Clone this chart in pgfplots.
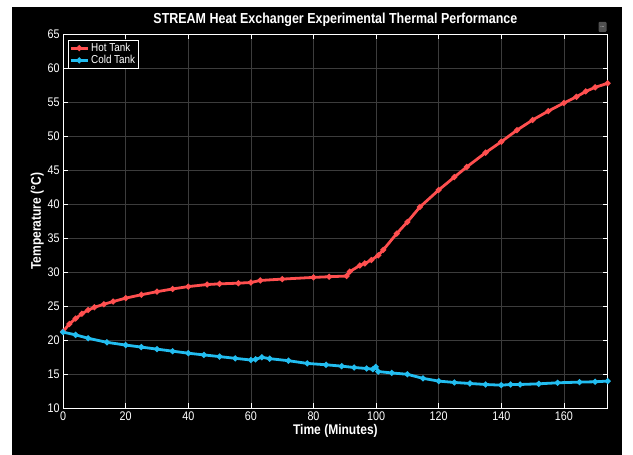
\documentclass[border=0pt]{standalone}
\usepackage{fontspec}
\setmainfont{Liberation Sans}[FakeStretch=0.86]
\usepackage{pgfplots}
\usepackage{pgfplotstable}
\pgfplotsset{compat=1.18}
\definecolor{hotc}{HTML}{FF4F4F}
\definecolor{coldc}{HTML}{22BDF0}
\definecolor{gridc}{HTML}{3C3C3C}

\pgfplotstableread{
t T
0 21.3
2 22.4
4 23.2
6 23.9
8 24.45
10 24.85
13 25.3
16 25.7
20 26.2
25 26.7
30 27.15
35 27.55
40 27.9
46 28.2
50 28.3
56 28.4
60 28.5
63 28.8
70 29.0
80 29.25
85 29.35
90.6 29.45
91.6 30.1
94.8 31.0
96.4 31.3
98.5 31.8
100.7 32.5
102.3 33.3
106.6 35.7
110 37.4
114 39.6
120 42.1
125 44.0
129 45.5
135 47.6
140 49.2
145 50.9
150 52.4
155 53.7
160 54.9
164 55.8
167 56.6
170 57.2
174 57.8
}\hot

\pgfplotstableread{
t T
0 21.2
4 20.8
8 20.3
14 19.7
20 19.3
25 19.0
30 18.7
35 18.4
40 18.1
45 17.85
50 17.6
55 17.35
60 17.1
61.5 17.2
63.5 17.5
66 17.3
72 17.0
78 16.6
84 16.4
89 16.2
93 16.0
97 15.85
99 15.75
99.9 16.1
100.7 15.4
105 15.2
110 15.0
115 14.4
120 14.0
125 13.8
130 13.65
135 13.5
140 13.4
143 13.5
146 13.5
152 13.6
158 13.75
165 13.85
170 13.9
174 14.0
}\cold

\begin{document}
\begin{tikzpicture}[x=1pt,y=1pt]
\fill[white] (0,0) rectangle (633,455);
\fill[black] (12,0) rectangle (622,448);
\begin{axis}[
  at={(63.1pt,46.7pt)}, anchor=south west,
  scale only axis, width=544.6pt, height=374pt,
  xmin=0, xmax=174, ymin=10, ymax=65,
  xtick={0,20,...,160}, ytick={10,15,...,65},
  /pgf/number format/assume math mode=true,
  ticklabel style={font=\fontsize{12.5}{13}\selectfont, text=white},
  axis line style={white, line width=0.8pt},
  tick style={white, line width=0.6pt},
  major tick length=5pt,
  grid=major, major grid style={gridc, line width=0.6pt},
  xlabel={\bfseries Time (Minutes)},
  ylabel={\bfseries Temperature (°C)},
  label style={text=white, font=\fontsize{14}{16}\selectfont},
  xlabel style={yshift=3pt},
  ylabel style={yshift=-3pt},
  legend cell align=left,
  legend style={at={(0.009,0.985)}, anchor=north west, fill=black, draw=white,
    text=white, font=\fontsize{11.5}{12}\selectfont, inner sep=1pt,
    row sep=-1.5pt, line width=0.6pt},
]
\addplot[hotc, line width=2.8pt, mark=*, mark size=1.3pt] table[x=t,y=T] {\hot};
\addlegendentry{Hot Tank}
\addplot[coldc, line width=2.8pt, mark=*, mark size=1.3pt] table[x=t,y=T] {\cold};
\addlegendentry{Cold Tank}
\end{axis}
\node[text=white, font=\bfseries\fontsize{14.5}{16}\selectfont] at (335.4,435) {STREAM Heat Exchanger Experimental Thermal Performance};
\node[fill={rgb,255:red,80;green,80;blue,80}, rounded corners=1pt, minimum width=8pt, minimum height=10pt, inner sep=0pt, text=white, font=\fontsize{6}{6}\selectfont] at (602.5,428) {...};
\end{tikzpicture}
\end{document}
